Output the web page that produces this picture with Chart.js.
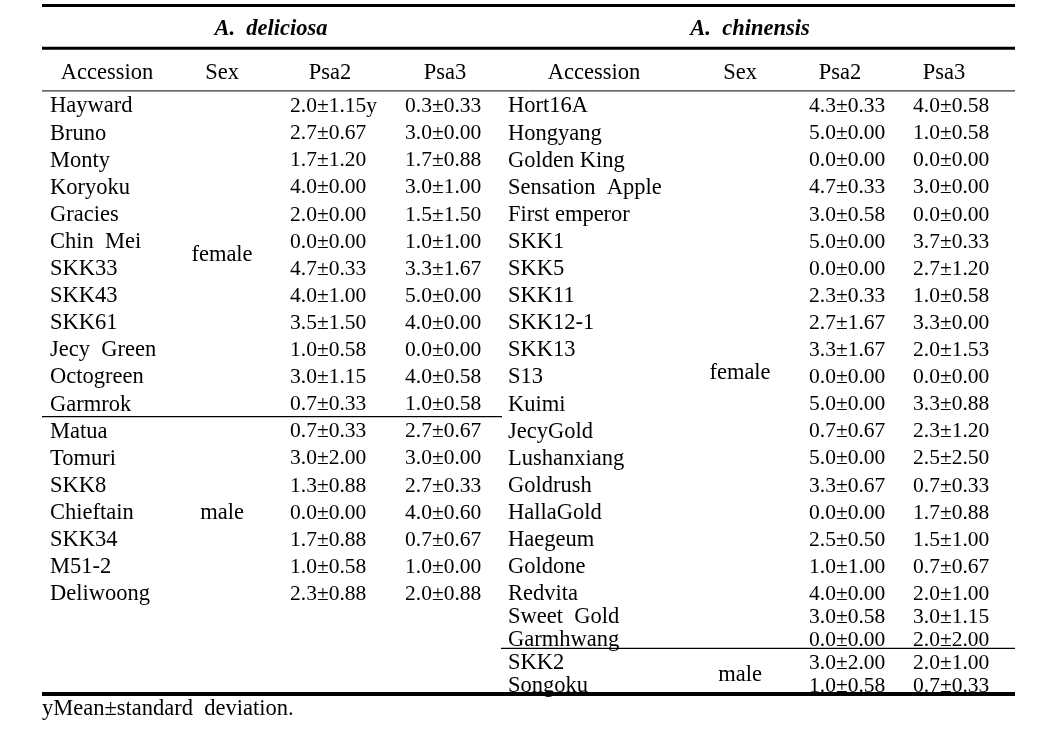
<!DOCTYPE html>
<html lang="en">
<head>
    <meta charset="UTF-8">
    <title>Psa2 / Psa3 scores by accession</title>
    <script src="https://cdn.jsdelivr.net/npm/chart.js"></script>
    <style>
        body { margin: 0; background: #fff; }
        #wrap { width: 1045px; height: 736px; }
    </style>
</head>
<body>
<div id="wrap"><canvas id="tableChart"></canvas></div>
<script>
    // A. deliciosa
    const leftNames = ['Hayward', 'Bruno', 'Monty', 'Koryoku', 'Gracies', 'Chin  Mei', 'SKK33', 'SKK43', 'SKK61',
        'Jecy  Green', 'Octogreen', 'Garmrok', 'Matua', 'Tomuri', 'SKK8', 'Chieftain', 'SKK34', 'M51-2', 'Deliwoong'];
    const leftSexGroups = ['female', 'male'];
    const leftSexCounts = [12, 7];
    const leftPsa2Mean = [2.0, 2.7, 1.7, 4.0, 2.0, 0.0, 4.7, 4.0, 3.5, 1.0, 3.0, 0.7, 0.7, 3.0, 1.3, 0.0, 1.7, 1.0, 2.3];
    const leftPsa2Sd   = [1.15, 0.67, 1.20, 0.00, 0.00, 0.00, 0.33, 1.00, 1.50, 0.58, 1.15, 0.33, 0.33, 2.00, 0.88, 0.00, 0.88, 0.58, 0.88];
    const leftPsa3Mean = [0.3, 3.0, 1.7, 3.0, 1.5, 1.0, 3.3, 5.0, 4.0, 0.0, 4.0, 1.0, 2.7, 3.0, 2.7, 4.0, 0.7, 1.0, 2.0];
    const leftPsa3Sd   = [0.33, 0.00, 0.88, 1.00, 1.50, 1.00, 1.67, 0.00, 0.00, 0.00, 0.58, 0.58, 0.67, 0.00, 0.33, 0.60, 0.67, 0.00, 0.88];

    // A. chinensis
    const rightNames = ['Hort16A', 'Hongyang', 'Golden King', 'Sensation  Apple', 'First emperor', 'SKK1', 'SKK5', 'SKK11',
        'SKK12-1', 'SKK13', 'S13', 'Kuimi', 'JecyGold', 'Lushanxiang', 'Goldrush', 'HallaGold', 'Haegeum', 'Goldone',
        'Redvita', 'Sweet  Gold', 'Garmhwang', 'SKK2', 'Songoku'];
    const rightSexGroups = ['female', 'male'];
    const rightSexCounts = [21, 2];
    const rightPsa2Mean = [4.3, 5.0, 0.0, 4.7, 3.0, 5.0, 0.0, 2.3, 2.7, 3.3, 0.0, 5.0, 0.7, 5.0, 3.3, 0.0, 2.5, 1.0, 4.0, 3.0, 0.0, 3.0, 1.0];
    const rightPsa2Sd   = [0.33, 0.00, 0.00, 0.33, 0.58, 0.00, 0.00, 0.33, 1.67, 1.67, 0.00, 0.00, 0.67, 0.00, 0.67, 0.00, 0.50, 1.00, 0.00, 0.58, 0.00, 2.00, 0.58];
    const rightPsa3Mean = [4.0, 1.0, 0.0, 3.0, 0.0, 3.7, 2.7, 1.0, 3.3, 2.0, 0.0, 3.3, 2.3, 2.5, 0.7, 1.7, 1.5, 0.7, 2.0, 3.0, 2.0, 2.0, 0.7];
    const rightPsa3Sd   = [0.58, 0.58, 0.00, 0.00, 0.00, 0.33, 1.20, 0.58, 0.00, 1.53, 0.00, 0.88, 1.20, 2.50, 0.33, 0.88, 1.00, 0.67, 1.00, 1.15, 2.00, 1.00, 0.33];

    const speciesTitles = ['A.  deliciosa', 'A.  chinensis'];
    const columnHeaders = ['Accession', 'Sex', 'Psa2', 'Psa3'];
    const footnote = 'yMean\u00b1standard  deviation.';

    // layout (x in page px, y in row units)
    const rowPx = 27.1;
    const firstRowPx = 105;
    const leftCols = { name: 50, sex: 222, psa2: 290, psa3: 405, head: [107, 222, 330, 445], title: 271 };
    const rightCols = { name: 508, sex: 740, psa2: 809, psa3: 913, head: [594, 740, 840, 944], title: 750 };
    const tableLeft = 42, tableRight = 1015, splitX = 501;
    const font = '22.5px "Liberation Serif", "Times New Roman", serif';
    const numFont = '21.5px "Liberation Serif", "Times New Roman", serif';
    const titleFont = 'italic bold 22.5px "Liberation Serif", "Times New Roman", serif';

    // last rows on the right side are squeezed together
    function rowPos(i) {
        return i <= 18 ? i : 18 + (i - 18) * 0.85;
    }
    function fmt(m, s) {
        return m.toFixed(1) + '\u00b1' + s.toFixed(2);
    }
    function groupCenters(counts, posFn) {
        const out = [];
        let start = 0;
        counts.forEach(n => {
            out.push((posFn(start) + posFn(start + n - 1)) / 2);
            start += n;
        });
        return out;
    }

    function textSet(texts, x, ys, align, f) {
        return {
            data: texts.map((t, i) => ({ x: Array.isArray(x) ? x[i] : x, y: ys[i] })),
            texts: texts, align: align || 'left', font: f || font,
            pointRadius: 0, pointHoverRadius: 0
        };
    }

    const leftRows = leftNames.map((_, i) => i);
    const rightRows = rightNames.map((_, i) => rowPos(i));
    const headRow = -1.25, titleRow = -2.84, footRow = 22.25;

    const datasets = [
        textSet(leftNames, leftCols.name, leftRows),
        textSet(leftSexGroups, leftCols.sex, groupCenters(leftSexCounts, i => i), 'center'),
        textSet(leftPsa2Mean.map((m, i) => fmt(m, leftPsa2Sd[i]) + (i === 0 ? 'y' : '')), leftCols.psa2, leftRows, 'left', numFont),
        textSet(leftPsa3Mean.map((m, i) => fmt(m, leftPsa3Sd[i])), leftCols.psa3, leftRows, 'left', numFont),
        textSet(rightNames, rightCols.name, rightRows),
        textSet(rightSexGroups, rightCols.sex, groupCenters(rightSexCounts, rowPos), 'center'),
        textSet(rightPsa2Mean.map((m, i) => fmt(m, rightPsa2Sd[i])), rightCols.psa2, rightRows, 'left', numFont),
        textSet(rightPsa3Mean.map((m, i) => fmt(m, rightPsa3Sd[i])), rightCols.psa3, rightRows, 'left', numFont),
        textSet(columnHeaders, leftCols.head, columnHeaders.map(() => headRow), 'center'),
        textSet(columnHeaders, rightCols.head, columnHeaders.map(() => headRow), 'center'),
        textSet(speciesTitles, [leftCols.title, rightCols.title], speciesTitles.map(() => titleRow), 'center', titleFont),
        textSet([footnote], tableLeft, [footRow])
    ];

    // horizontal rules: [row, x0, x1, width]
    const rules = [
        [-3.67, tableLeft, tableRight, 3],
        [-2.09, tableLeft, tableRight, 3],
        [-0.52, tableLeft, tableRight, 1],
        [11.5, tableLeft, splitX + 1, 1.2],
        [20.05, splitX, tableRight, 1.2],
        [21.73, tableLeft, tableRight, 4]
    ];

    const tablePlugin = {
        id: 'tableText',
        afterDatasetsDraw(chart) {
            const ctx = chart.ctx;
            const xs = chart.scales.x, ys = chart.scales.y;
            ctx.save();
            ctx.strokeStyle = '#000';
            rules.forEach(r => {
                const y = ys.getPixelForValue(r[0]);
                ctx.lineWidth = r[3];
                ctx.beginPath();
                ctx.moveTo(xs.getPixelForValue(r[1]), y);
                ctx.lineTo(xs.getPixelForValue(r[2]), y);
                ctx.stroke();
            });
            ctx.fillStyle = '#000';
            ctx.textBaseline = 'middle';
            chart.data.datasets.forEach((ds, di) => {
                const meta = chart.getDatasetMeta(di);
                ctx.font = ds.font;
                ctx.textAlign = ds.align;
                meta.data.forEach((el, i) => {
                    ctx.fillText(ds.texts[i], el.x, el.y + 1.5);
                });
            });
            ctx.restore();
        }
    };

    new Chart(document.getElementById('tableChart'), {
        type: 'scatter',
        data: { datasets: datasets },
        options: {
            responsive: true,
            maintainAspectRatio: false,
            animation: false,
            events: [],
            layout: { padding: 0 },
            scales: {
                x: { type: 'linear', min: 0, max: 1045, display: false },
                y: { type: 'linear', reverse: true, min: -firstRowPx / rowPx, max: (736 - firstRowPx) / rowPx, display: false }
            },
            plugins: { legend: { display: false }, tooltip: { enabled: false } }
        },
        plugins: [tablePlugin]
    });
</script>
</body>
</html>
